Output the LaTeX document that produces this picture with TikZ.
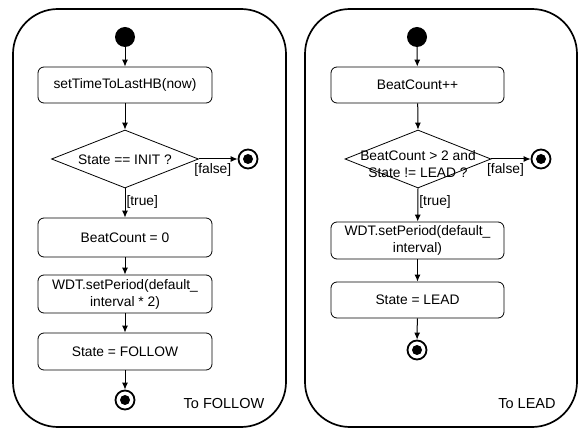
\documentclass[tikz,border=0pt]{standalone}
\usepackage{fontspec}
\setmainfont{Liberation Sans}
\usetikzlibrary{arrows.meta,shapes.geometric}
\begin{document}
\begin{tikzpicture}[x=1pt,y=-1pt,
  every node/.style={font=\fontsize{13.8}{17}\selectfont},
  panel/.style={draw,line width=1.7pt,rounded corners=45pt},
  actbox/.style={draw,line width=0.8pt,rounded corners=6pt,minimum width=174pt,inner sep=0pt,align=center},
  decis/.style={draw,line width=0.8pt,shape=diamond,inner sep=0pt,minimum width=147pt,minimum height=58pt},
  startdot/.style={circle,fill=black,minimum size=20pt,inner sep=0pt},
  enddot/.style={circle,draw,line width=1.8pt,minimum size=19pt,inner sep=0pt,
     path picture={\fill (path picture bounding box.center) circle (5pt);}},
  flow/.style={line width=1pt,-{Latex[length=7pt,width=6pt]}},
  guard/.style={inner sep=1pt},
  falseguard/.style={inner sep=1pt,below,yshift=-3pt,pos=0.36}
]
\useasboundingbox (0,0) rectangle (584,430);
% panels
\draw[panel] (13,9) rectangle (286,427);
\draw[panel] (305,9) rectangle (577,427);

% left panel
\node[startdot] (s1) at (125,37) {};
\node[actbox,minimum height=36pt] (b1) at (125,85) {setTimeToLastHB(now)};
\node[decis] (d1) at (125,159) {};
\node at (125,160) {State == INIT ?};
\node[enddot] (f1) at (248,159) {};
\node[actbox,minimum height=39pt] (b2) at (125,237.5) {BeatCount = 0};
\node[actbox,minimum height=38pt] (b3) at (125,294) {WDT.setPeriod(default\_\\interval * 2)};
\node[actbox,minimum height=37pt] (b4) at (125,351.5) {State = FOLLOW};
\node[enddot] (f2) at (125,400) {};
\node[font=\fontsize{14.5}{17}\selectfont] (t1) at (224,404) {To FOLLOW};

\draw[flow] (s1) -- (b1);
\draw[flow] (b1) -- (d1.north);
\draw[flow] (d1.east) -- node[falseguard] {[false]} (f1);
\draw[flow] (d1.south) -- node[guard,right,pos=0.45] {[true]} (b2);
\draw[flow] (b2) -- (b3);
\draw[flow] (b3) -- (b4);
\draw[flow] (b4) -- (f2);

% right panel
\node[startdot] (s2) at (417,37) {};
\node[actbox,minimum width=173pt,minimum height=36pt] (r1) at (417.5,85) {BeatCount++};
\node[decis,minimum width=146pt] (d2) at (418,159) {};
\node[align=center] at (418,164) {BeatCount > 2 and\\State != LEAD ?};
\node[enddot] (f3) at (541,159) {};
\node[actbox,minimum width=173pt,minimum height=37pt] (r2) at (417.5,240.5) {WDT.setPeriod(default\_\\interval)};
\node[actbox,minimum width=173pt,minimum height=36pt] (r3) at (417.5,300) {State = LEAD};
\node[enddot] (f4) at (417,350) {};
\node[font=\fontsize{14.5}{17}\selectfont] (t2) at (527,404) {To LEAD};

\draw[flow] (s2) -- (r1);
\draw[flow] (r1) -- (d2.north);
\draw[flow] (d2.east) -- node[falseguard] {[false]} (f3);
\draw[flow] (d2.south) -- node[guard,right,pos=0.4] {[true]} (r2);
\draw[flow] (r2) -- (r3);
\draw[flow] (r3) -- (f4);
\end{tikzpicture}
\end{document}
